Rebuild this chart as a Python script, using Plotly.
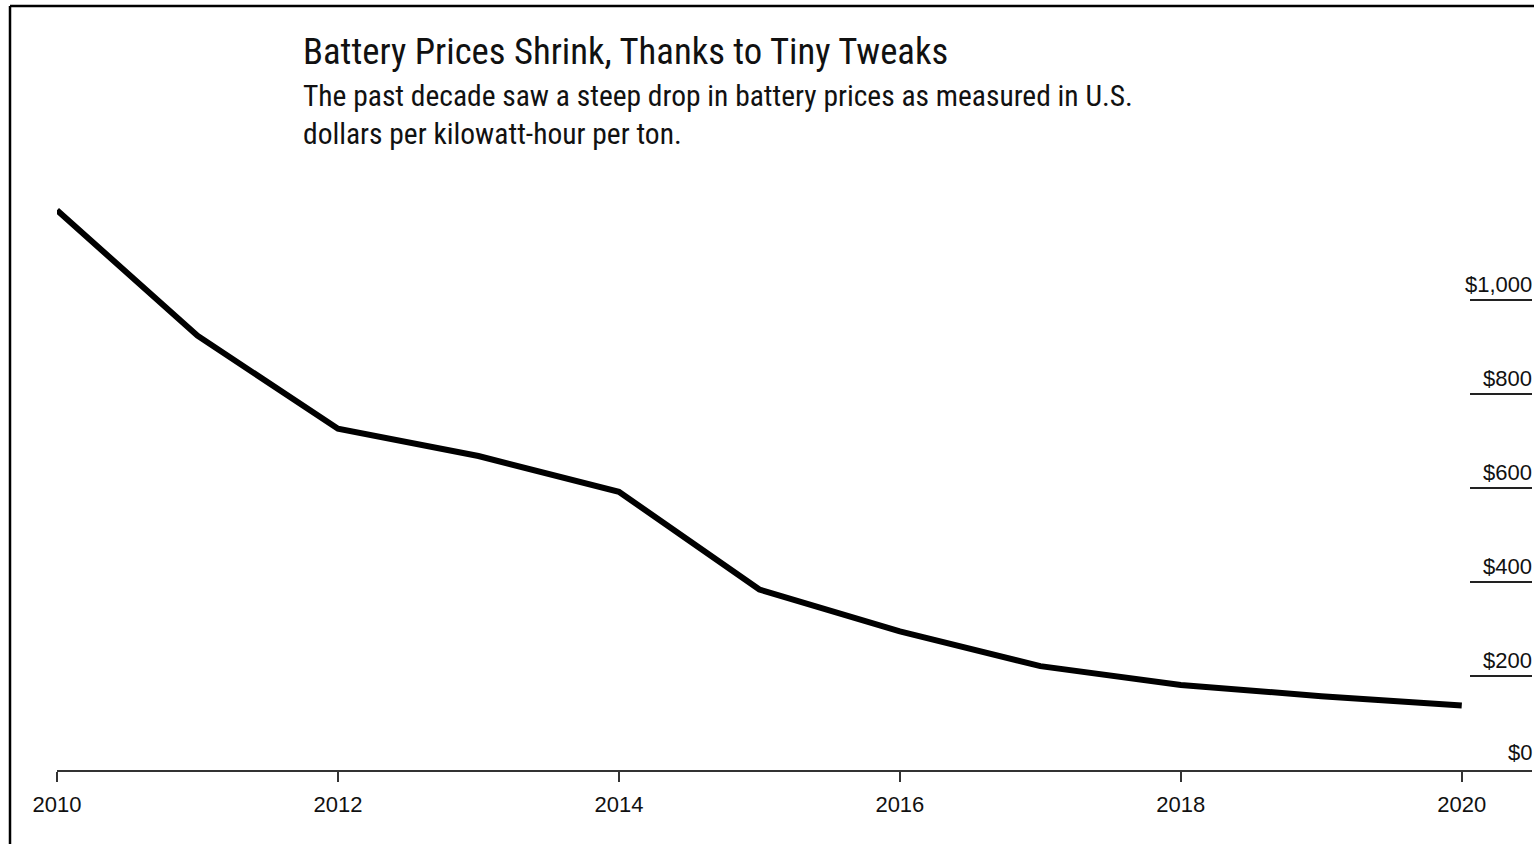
import plotly.graph_objects as go

# Battery pack prices, US$ per kWh
years = [2010, 2011, 2012, 2013, 2014, 2015, 2016, 2017, 2018, 2019, 2020]
prices = [1191, 924, 726, 668, 592, 384, 295, 221, 181, 157, 137]

year_ticks = [2010, 2012, 2014, 2016, 2018, 2020]
price_ticks = [0, 200, 400, 600, 800, 1000]
price_labels = ["$0", "$200", "$400", "$600", "$800", "$1,000"]

title = "Battery Prices Shrink, Thanks to Tiny Tweaks"
subtitle_lines = [
    "The past decade saw a steep drop in battery prices as measured in U.S.",
    "dollars per kilowatt-hour per ton.",
]

W, H = 1534, 844
ML, MR, MT, MB = 57, 2, 170, 74
PW, PH = W - ML - MR, H - MT - MB
Y_MAX = 1276.6


def px_x(x):
    return (x - ML) / PW


def px_y(y):
    return (H - MB - y) / PH


NARROW = "Roboto Condensed, Liberation Sans, sans-serif"
REGULAR = "Liberation Sans, Arial, sans-serif"

fig = go.Figure()
fig.add_trace(go.Scatter(
    x=years, y=prices, mode="lines",
    line=dict(color="#000000", width=6),
    hoverinfo="x+y", showlegend=False,
))

shapes = []
annotations = []

# right-hand value labels with short underlines
for v, lab in zip(price_ticks, price_labels):
    if v > 0:
        shapes.append(dict(type="line", xref="paper", yref="y",
                           x0=px_x(1470), x1=1.0, y0=v, y1=v,
                           line=dict(color="#222222", width=2)))
    annotations.append(dict(x=1.0, y=v, xref="paper", yref="y",
                            text=lab, showarrow=False,
                            xanchor="right", yanchor="bottom",
                            xshift=2, yshift=1 if v > 0 else 3,
                            font=dict(family=REGULAR, size=22, color="#111111")))

# frame lines at top and left
shapes.append(dict(type="line", xref="paper", yref="paper",
                   x0=px_x(10), x1=px_x(W), y0=px_y(6), y1=px_y(6),
                   line=dict(color="#000000", width=2.5)))
shapes.append(dict(type="line", xref="paper", yref="paper",
                   x0=px_x(10), x1=px_x(10), y0=px_y(6), y1=px_y(H),
                   line=dict(color="#000000", width=2.5)))

annotations.append(dict(x=px_x(301), y=px_y(52), xref="paper", yref="paper",
                        text=title, showarrow=False,
                        xanchor="left", yanchor="middle",
                        font=dict(family=NARROW, size=36.7, color="#111111")))
for i, line in enumerate(subtitle_lines):
    annotations.append(dict(x=px_x(301), y=px_y(96 + 38 * i), xref="paper", yref="paper",
                            text=line, showarrow=False,
                            xanchor="left", yanchor="middle",
                            font=dict(family=NARROW, size=29.5, color="#111111")))

fig.update_layout(
    width=W, height=H,
    margin=dict(l=ML, r=MR, t=MT, b=MB),
    paper_bgcolor="white", plot_bgcolor="white",
    shapes=shapes, annotations=annotations,
    xaxis=dict(range=[2010, 2020.5], tickvals=year_ticks,
               ticktext=[str(y) for y in year_ticks],
               showgrid=False, zeroline=False,
               showline=True, linecolor="#333333", linewidth=1.5,
               ticks="outside", ticklen=10, tickwidth=1.5, tickcolor="#333333",
               ticklabelstandoff=4,
               tickfont=dict(family=REGULAR, size=22, color="#111111"),
               fixedrange=True),
    yaxis=dict(range=[0, Y_MAX], visible=False, fixedrange=True),
)

fig.write_html("out.html")
